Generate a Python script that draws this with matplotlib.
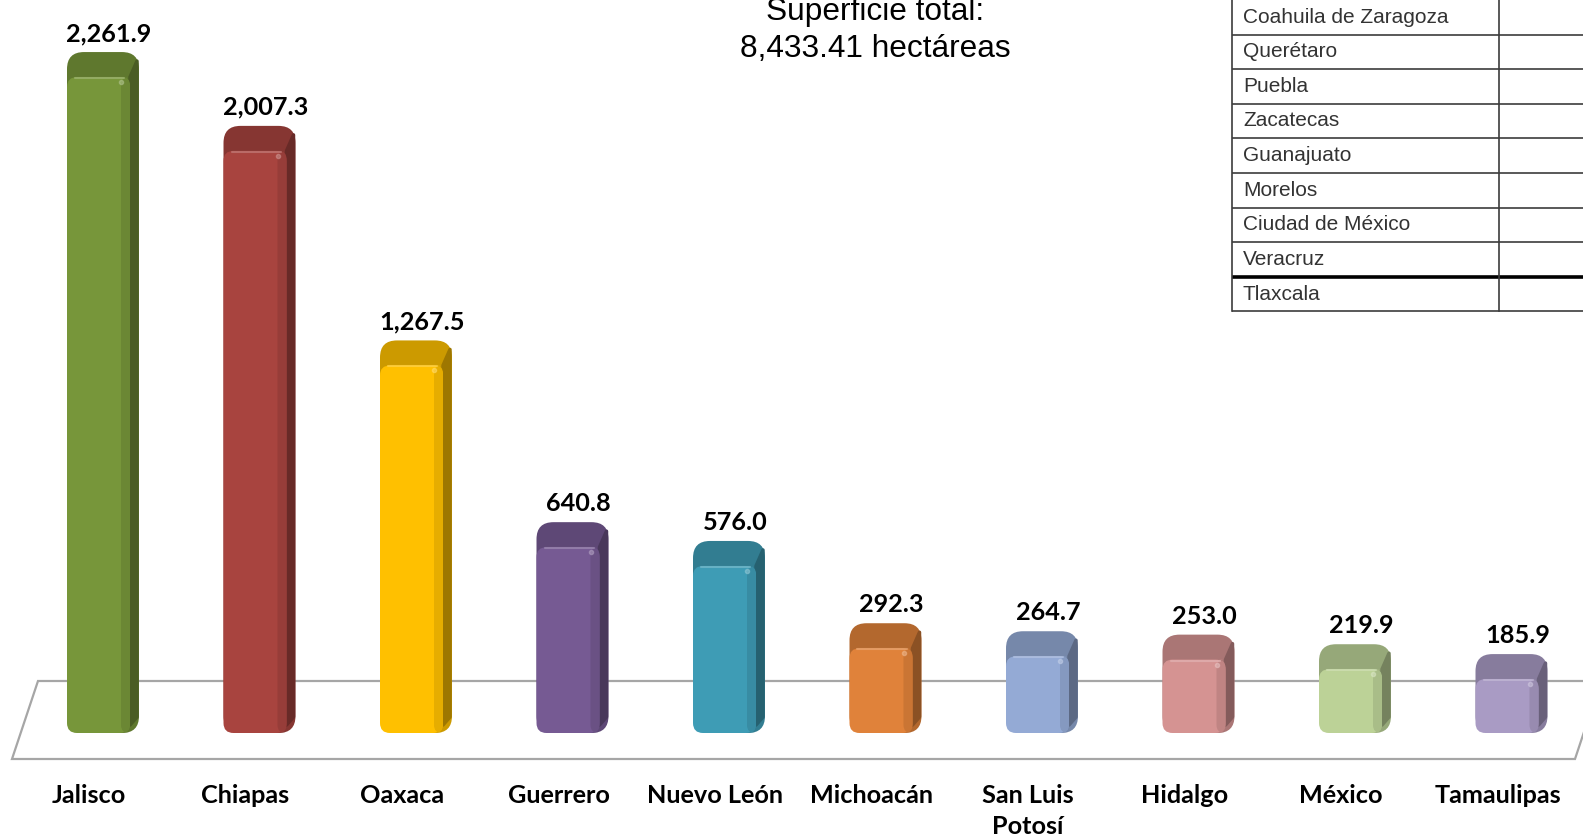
import numpy as np
import matplotlib
matplotlib.use("Agg")
import matplotlib.pyplot as plt
import matplotlib.colors as mcolors
from matplotlib.patches import FancyBboxPatch, Polygon

# datos de la grafica
estados = ["Jalisco", "Chiapas", "Oaxaca", "Guerrero", "Nuevo León",
           "Michoacán", "San Luis\nPotosí", "Hidalgo", "México", "Tamaulipas"]
superficie = [2261.9, 2007.3, 1267.5, 640.8, 576.0, 292.3, 264.7, 253.0, 219.9, 185.9]
colores = ["#77963A", "#A8443F", "#FFC000", "#765A93", "#3E9CB5",
           "#E0823A", "#94AAD5", "#D59392", "#BCD297", "#A99BC4"]
otros_estados = ["Coahuila de Zaragoza", "Querétaro", "Puebla", "Zacatecas",
                 "Guanajuato", "Morelos", "Ciudad de México", "Veracruz", "Tlaxcala"]
total = 8433.41

W, H = 1583, 835
fig = plt.figure(figsize=(W / 100, H / 100), dpi=100)
ax = fig.add_axes([0, 0, 1, 1])
ax.axis("off")

# escala: pixeles por categoria y por hectarea
paso_x = 156.5
escala_y = 0.29
x0_px, y0_px = 103, 733
ax.set_xlim(-x0_px / paso_x, (W - x0_px) / paso_x)
ax.set_ylim((y0_px - H) / escala_y, y0_px / escala_y)


def px_x(p):
    return p / paso_x


def px_y(p):
    return p / escala_y


def tono(c, f):
    rgb = np.array(mcolors.to_rgb(c))
    if f <= 1:
        return tuple(rgb * f)
    return tuple(rgb + (1 - rgb) * (f - 1))


asp = paso_x / escala_y

# piso 3D
piso_px = [(38, 681), (1601, 681), (1575, 759), (12, 759)]
piso = [((px - x0_px) / paso_x, (y0_px - py) / escala_y) for px, py in piso_px]
ax.add_patch(Polygon(piso, closed=True, fc="white", ec="#A6A6A6", lw=1.6, zorder=1))

# barras con efecto 3D
dx, dy = px_x(9), px_y(25)
for i, (v, c) in enumerate(zip(superficie, colores)):
    xl = i - px_x(36)
    xr = xl + px_x(63)
    fondo = FancyBboxPatch((xl, 0), xr + dx - xl, v + dy,
                           boxstyle="round,pad=0,rounding_size=%f" % px_x(17),
                           mutation_aspect=asp, fc=tono(c, 0.8), ec="none", zorder=3)
    ax.add_patch(fondo)
    lado = Polygon([(xr, px_y(8)), (xr, v), (xr + dx - px_x(2), v + dy - px_y(9)),
                    (xr + dx - px_x(2), px_y(16))], closed=True,
                   fc=tono(c, 0.62), ec=tono(c, 0.62), lw=2.5, joinstyle="round", zorder=3.1)
    ax.add_patch(lado)
    frente = FancyBboxPatch((xl, 0), xr - xl, v,
                            boxstyle="round,pad=0,rounding_size=%f" % px_x(10),
                            mutation_aspect=asp, fc=c, ec="none", zorder=3.2)
    ax.add_patch(frente)
    sombra = FancyBboxPatch((xr - px_x(9), 0), px_x(9), v,
                            boxstyle="round,pad=0,rounding_size=%f" % px_x(8),
                            mutation_aspect=asp, fc=tono(c, 0.9), ec="none", zorder=3.3)
    ax.add_patch(sombra)
    ax.plot([xl + px_x(8), xr - px_x(6)], [v - px_y(1), v - px_y(1)],
            color=tono(c, 1.3), lw=1.5, alpha=0.7, solid_capstyle="round", zorder=3.4)
    ax.plot([xr - px_x(9)], [v - px_y(5)], "o", ms=3, color=tono(c, 1.4), alpha=0.6, zorder=3.5)
    ax.text(i + px_x(6), v + dy + px_y(11), f"{v:,.1f}", ha="center", va="baseline",
            fontsize=18.2, fontweight="bold", family="Lato", color="black", zorder=4)

# etiquetas de categorias
for i, nombre in enumerate(estados):
    for j, linea in enumerate(nombre.split("\n")):
        ax.text(i - px_x(14), -px_y(803 - y0_px + 31 * j), linea, ha="center", va="baseline",
                fontsize=18.2, fontweight="bold", family="Lato", color="black")

# titulo
fig.text(875 / W, 1 - 20 / H, "Superficie total:", ha="center", va="baseline",
         fontsize=22.8, family="Liberation Sans", color="black")
fig.text(875 / W, 1 - 57 / H, f"{total:,.2f} hectáreas", ha="center", va="baseline",
         fontsize=22.8, family="Liberation Sans", color="black")

# tabla de otros estados
tab = fig.add_axes([0, 0, 1, 1])
tab.set_xlim(0, W)
tab.set_ylim(H, 0)
tab.axis("off")
alto = 34.6
izq, div, der = 1232, 1499, W + 5
lineas_y = [34.5 + alto * k for k in range(len(otros_estados))]
for k, yl in enumerate(lineas_y):
    grueso = k == len(otros_estados) - 2
    tab.plot([izq, der], [yl, yl], color="black" if grueso else "#3C3C3C",
             lw=2.6 if grueso else 1.2, solid_capstyle="butt")
for xv in (izq, div):
    tab.plot([xv, xv], [-2, lineas_y[-1]], color="#3C3C3C", lw=1.2)
for k, nombre in enumerate(otros_estados):
    tab.text(1243, lineas_y[k] - alto / 2, nombre, ha="left", va="center",
             fontsize=15, family="Liberation Sans", color="#333333")

fig.savefig("out.png", dpi=100)
